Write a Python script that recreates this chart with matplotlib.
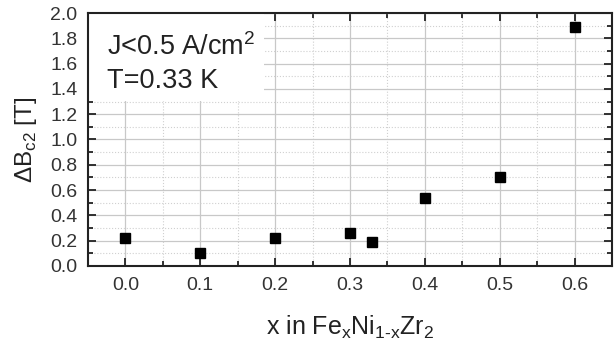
import matplotlib
matplotlib.use("Agg")
import matplotlib.pyplot as plt
from matplotlib.ticker import MultipleLocator, FormatStrFormatter
from matplotlib.patches import Rectangle

plt.rcParams['font.family'] = ['Liberation Sans', 'DejaVu Sans']
plt.rcParams['mathtext.fontset'] = 'custom'
plt.rcParams['mathtext.rm'] = 'Liberation Sans'

x_vals = [0.0, 0.1, 0.2, 0.3, 0.33, 0.4, 0.5, 0.6]
dB_vals = [0.22, 0.10, 0.22, 0.26, 0.19, 0.54, 0.70, 1.89]

fig = plt.figure(figsize=(6.14, 3.47), dpi=100)
ax = fig.add_axes([88/614, 1-266/347, (612-88)/614, (266-13)/347])

ax.set_xlim(-0.05, 0.65)
ax.set_ylim(0.0, 2.0)
ax.xaxis.set_major_locator(MultipleLocator(0.1))
ax.xaxis.set_minor_locator(MultipleLocator(0.05))
ax.yaxis.set_major_locator(MultipleLocator(0.2))
ax.yaxis.set_minor_locator(MultipleLocator(0.1))
ax.xaxis.set_major_formatter(FormatStrFormatter('%.1f'))
ax.yaxis.set_major_formatter(FormatStrFormatter('%.1f'))

ax.grid(True, which='major', color='#c8c8c8', lw=0.9, ls='-')
ax.grid(True, which='minor', color='#d0d0d0', lw=0.8, ls=':')
ax.set_axisbelow(True)

ax.tick_params(which='both', direction='in', top=True, right=True, width=1.3,
               colors='#222222', labelcolor='#333333', labelsize=14)
ax.tick_params(which='major', length=6)
ax.tick_params(which='minor', length=3.5)
ax.tick_params(axis='x', which='major', pad=8)
ax.tick_params(axis='y', which='major', pad=7.5)
for s in ax.spines.values():
    s.set_linewidth(1.5)
    s.set_color('#222222')

ax.add_patch(Rectangle((0, 0.652), 0.335, 0.348, transform=ax.transAxes,
                       facecolor='white', edgecolor='none', zorder=1.5))
ax.text(0.036, 0.834, r'J<0.5 A/cm$^{\mathregular{2}}$', transform=ax.transAxes,
        fontsize=19.5, color='#222222', zorder=3)
ax.text(0.036, 0.703, 'T=0.33 K', transform=ax.transAxes,
        fontsize=19.5, color='#222222', zorder=3)

ax.plot(x_vals, dB_vals, 's', color='black', ms=7.5, zorder=4, clip_on=False)

ax.set_xlabel(r'x in Fe$_{\mathregular{x}}$Ni$_{\mathregular{1\text{-}x}}$Zr$_{\mathregular{2}}$',
              fontsize=18, color='#222222', labelpad=14)
ax.set_ylabel(r'$\Delta$B$_{\mathregular{c2}}$ [T]', fontsize=17.5, color='#222222', labelpad=8)

fig.savefig('out.png', dpi=100)
